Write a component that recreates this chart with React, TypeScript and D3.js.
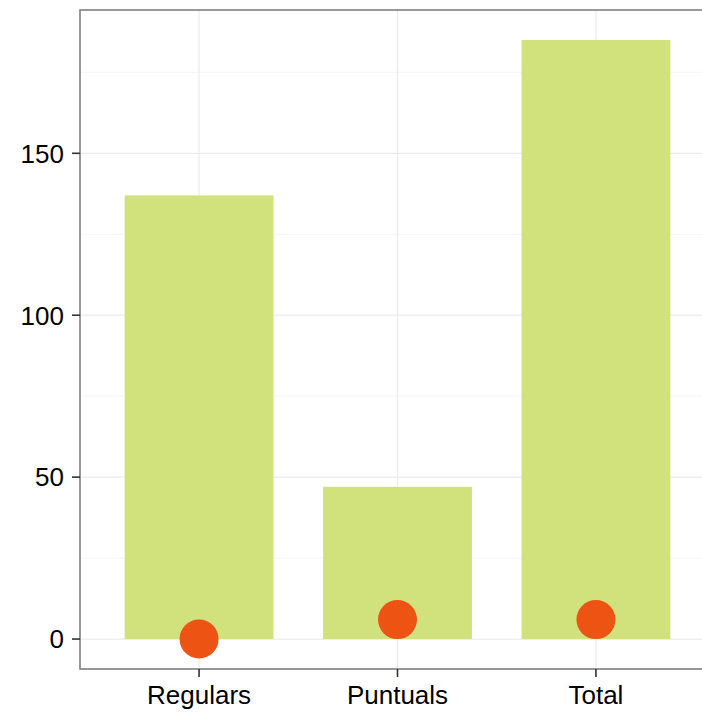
import React from "react";
import * as d3 from "d3";

const categories = ["Regulars", "Puntuals", "Total"];
const barValues = [137, 47, 185];
const pointValues = [0, 6, 6];
const yTicks = [0, 50, 100, 150];
const yMinorTicks = [25, 75, 125, 175];

export default function App() {
  const W = 702, H = 712;
  const left = 80, top = 10, bottom = 669;
  const right = 715;
  const yMax = 185;
  const y = d3.scaleLinear().domain([-0.05 * yMax, 1.05 * yMax]).range([bottom, top]);
  const step = (right - left) / (categories.length + 0.2);
  const x = d3.scalePoint<string>().domain(categories).range([left + 0.6 * step, right - 0.6 * step]);
  const bw = step * 0.75;
  const font = "Liberation Sans, Arial, sans-serif";
  return (
    <svg width={W} height={H} style={{ position: "absolute", left: 0, top: 0 }}>
      <rect x={0} y={0} width={W} height={H} fill="#fff" />
      {yMinorTicks.map((t) => (
        <line key={"m" + t} x1={left} x2={right} y1={y(t)} y2={y(t)} stroke="#f4f4f4" strokeWidth={1} />
      ))}
      {yTicks.map((t) => (
        <line key={"g" + t} x1={left} x2={right} y1={y(t)} y2={y(t)} stroke="#ebebeb" strokeWidth={1.2} />
      ))}
      {categories.map((c) => (
        <line key={"v" + c} x1={x(c)!} x2={x(c)!} y1={top} y2={bottom} stroke="#ebebeb" strokeWidth={1.2} />
      ))}
      {categories.map((c, i) => (
        <rect key={"b" + c} x={x(c)! - bw / 2} width={bw} y={y(barValues[i])} height={y(0) - y(barValues[i])} fill="#d1e17c" />
      ))}
      {categories.map((c, i) => (
        <circle key={"p" + c} cx={x(c)!} cy={y(pointValues[i])} r={19.5} fill="#ed5414" />
      ))}
      <rect x={left} y={top} width={right - left} height={bottom - top} fill="none" stroke="#7f7f7f" strokeWidth={1.6} />
      {yTicks.map((t) => (
        <g key={"yt" + t}>
          <line x1={left - 8} x2={left} y1={y(t)} y2={y(t)} stroke="#333" strokeWidth={1.6} />
          <text x={left - 16} y={y(t)} dy="0.36em" textAnchor="end" fontFamily={font} fontSize={26} fill="#000">{t}</text>
        </g>
      ))}
      {categories.map((c) => (
        <g key={"xt" + c}>
          <line x1={x(c)!} x2={x(c)!} y1={bottom} y2={bottom + 8} stroke="#333" strokeWidth={1.6} />
          <text x={x(c)!} y={703.5} textAnchor="middle" fontFamily={font} fontSize={26} fill="#000">{c}</text>
        </g>
      ))}
    </svg>
  );
}
